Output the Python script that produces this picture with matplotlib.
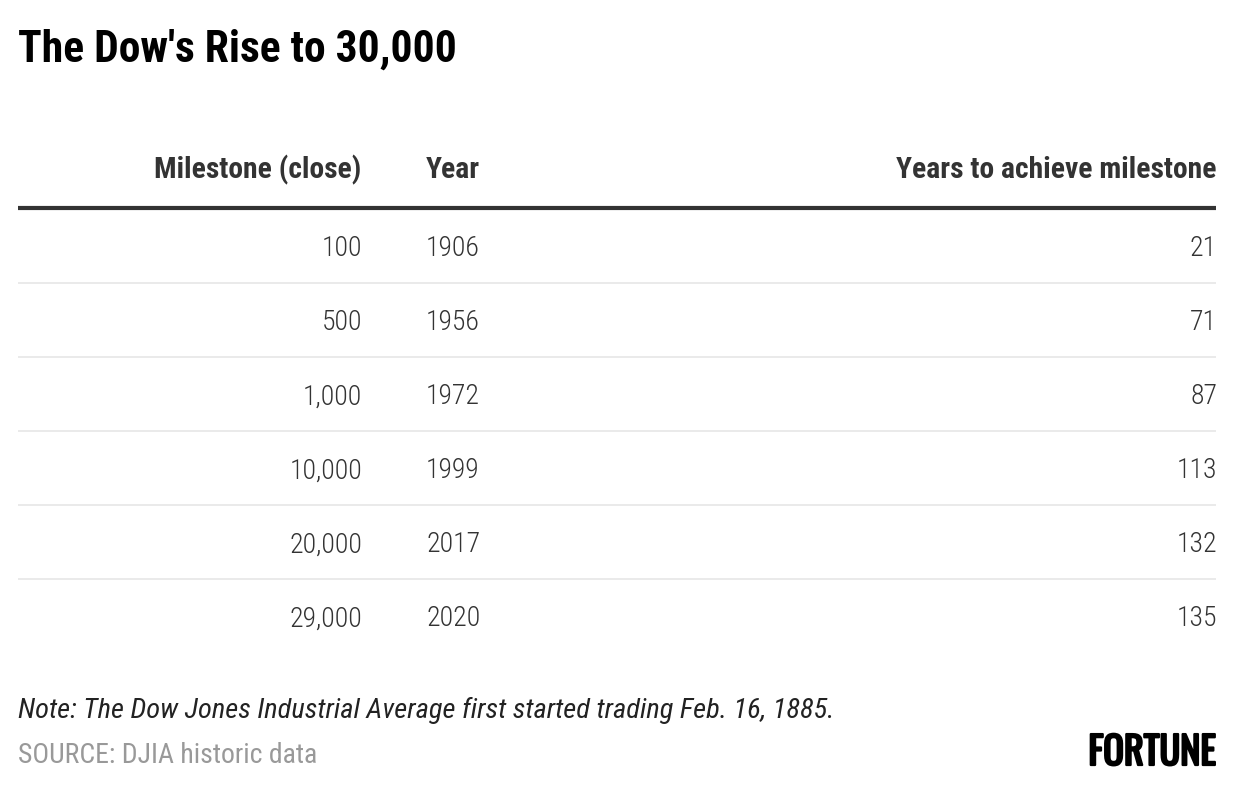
import matplotlib
matplotlib.use("Agg")
import matplotlib.pyplot as plt
import matplotlib.patheffects as pe

# table data
milestones = ["100", "500", "1,000", "10,000", "20,000", "29,000"]
years = ["1906", "1956", "1972", "1999", "2017", "2020"]
years_to_achieve = [21, 71, 87, 113, 132, 135]
headers = ["Milestone (close)", "Year", "Years to achieve milestone"]

title = "The Dow's Rise to 30,000"
note = "Note: The Dow Jones Industrial Average first started trading Feb. 16, 1885."
source = "SOURCE: DJIA historic data"

W, H = 1236, 792
fig = plt.figure(figsize=(W / 100, H / 100), dpi=100)
ax = fig.add_axes([0, 0, 1, 1])
ax.set_xlim(0, W)
ax.set_ylim(H, 0)
ax.axis("off")

cond = "Roboto Condensed"

ax.text(18, 62, title, family=cond, weight=700, fontsize=31.4, color="#000000",
        ha="left", va="baseline")

# header row
hy = 178
ax.text(361, hy, headers[0], family=cond, weight=700, fontsize=21.3, color="#333333",
        ha="right", va="baseline")
ax.text(426, hy, headers[1], family=cond, weight=700, fontsize=21.3, color="#333333",
        ha="left", va="baseline")
ax.text(1217, hy, headers[2], family=cond, weight=700, fontsize=21.3, color="#333333",
        ha="right", va="baseline")
ax.plot([18, 1216], [208, 208], color="#333333", lw=3, solid_capstyle="butt")

row_h = 74
first = 246
for i in range(len(milestones)):
    y = first + i * row_h
    ax.text(362, y, milestones[i], family=cond, weight=300, fontsize=20, color="#333333",
            ha="right", va="center_baseline")
    ax.text(426, y, years[i], family=cond, weight=300, fontsize=20, color="#333333",
            ha="left", va="center_baseline")
    ax.text(1217, y, str(years_to_achieve[i]), family=cond, weight=300, fontsize=20,
            color="#333333", ha="right", va="center_baseline")
    if i < len(milestones) - 1:
        ax.plot([18, 1216], [y + 37, y + 37], color="#e6e6e6", lw=1.2, solid_capstyle="butt")

ax.text(18, 718, note, family=cond, style="italic", weight=400, fontsize=20.5,
        color="#222222", ha="left", va="baseline")
ax.text(18, 763, source, family=cond, weight=400, fontsize=20, color="#999999",
        ha="left", va="baseline")
ax.text(1216, 765, "FORTUNE", family="Oswald", weight=400, fontsize=27.5, color="#000000",
        ha="right", va="baseline",
        path_effects=[pe.withStroke(linewidth=1.6, foreground="#000000")])

fig.savefig("out.png", dpi=100)
